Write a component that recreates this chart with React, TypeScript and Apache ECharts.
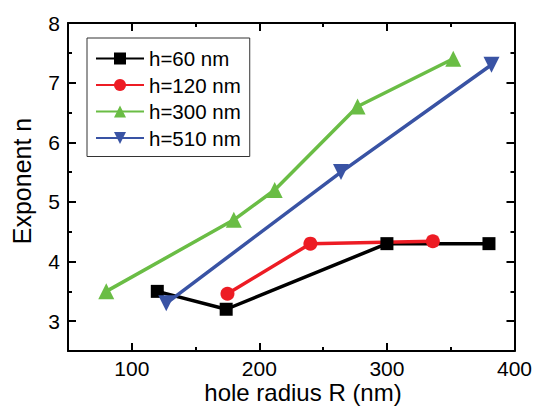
import React, { useEffect, useRef } from "react";
import * as echarts from "echarts";

const R60 = [120, 174, 300, 380];
const n60 = [3.5, 3.2, 4.3, 4.3];
const R120 = [175, 240, 336];
const n120 = [3.46, 4.3, 4.34];
const R300 = [80, 180, 212, 277, 352];
const n300 = [3.5, 4.7, 5.2, 6.6, 7.4];
const R510 = [127, 264, 382];
const n510 = [3.3, 5.5, 7.3];

const seriesNames = ["h=60 nm", "h=120 nm", "h=300 nm", "h=510 nm"];
const xMajor = [100, 200, 300, 400];
const xMinor = [150, 250, 350];
const yMajor = [3, 4, 5, 6, 7, 8];
const yMinor = [3.5, 4.5, 5.5, 6.5, 7.5];

const pairs = (xs: number[], ys: number[]) => xs.map((x, i) => [x, ys[i]]);

export default function App() {
  const ref = useRef<HTMLDivElement>(null);
  useEffect(() => {
    document.body.style.margin = "0";
    if (!ref.current) return;
    const chart = echarts.init(ref.current, undefined, { renderer: "svg" });
    const font = "Liberation Sans, Arial, sans-serif";
    const lineCol = "#000";
    const baseX = (position: string, ticks: number[], len: number, showLine: boolean, showLabel: boolean) => ({
      type: "value",
      gridIndex: 0,
      position,
      min: 50,
      max: 400,
      axisLine: { show: showLine, onZero: false, lineStyle: { color: lineCol, width: 2 } },
      axisTick: { show: true, inside: true, length: len, customValues: ticks, lineStyle: { color: lineCol, width: 2 } },
      axisLabel: showLabel
        ? { show: true, customValues: ticks, fontSize: 21, color: "#000", fontFamily: font, margin: 7 }
        : { show: false },
      splitLine: { show: false },
    });
    const baseY = (position: string, ticks: number[], len: number, showLine: boolean, showLabel: boolean) => ({
      type: "value",
      gridIndex: 0,
      position,
      min: 2.5,
      max: 8,
      axisLine: { show: showLine, onZero: false, lineStyle: { color: lineCol, width: 2 } },
      axisTick: { show: true, inside: true, length: len, customValues: ticks, lineStyle: { color: lineCol, width: 2 } },
      axisLabel: showLabel
        ? { show: true, customValues: ticks, fontSize: 21, color: "#000", fontFamily: font, margin: 8 }
        : { show: false },
      splitLine: { show: false },
    });
    const mk = (name: string, data: number[][], color: string, symbol: string, size: number, rotate = 0) => ({
      name,
      type: "line",
      xAxisIndex: 0,
      yAxisIndex: 0,
      data,
      symbol,
      symbolSize: size,
      symbolRotate: rotate,
      showAllSymbol: true,
      lineStyle: { color, width: 3.5 },
      itemStyle: { color },
      z: 3,
    });
    chart.setOption({
      animation: false,
      backgroundColor: "#fff",
      grid: { left: 68, right: 18, top: 23, bottom: 56, containLabel: false },
      xAxis: [
        baseX("bottom", xMajor, 8, true, true),
        baseX("bottom", xMinor, 4, false, false),
        baseX("top", xMajor, 8, true, false),
        baseX("top", xMinor, 4, false, false),
      ],
      yAxis: [
        baseY("left", yMajor, 8, true, true),
        baseY("left", yMinor, 4, false, false),
        baseY("right", yMajor, 8, true, false),
        baseY("right", yMinor, 4, false, false),
      ],
      legend: {
        orient: "vertical",
        left: 87,
        top: 38,
        data: seriesNames,
        itemWidth: 48,
        itemHeight: 15,
        itemGap: 5.5,
        padding: [10, 9, 8, 8],
        borderColor: "#333",
        borderWidth: 1,
        textStyle: { fontSize: 20.5, color: "#000", fontFamily: font, lineHeight: 20, padding: [0, 0, 0, 0] },
      },
      graphic: [
        {
          type: "text",
          x: 303,
          y: 392,
          style: { text: "hole radius R (nm)", align: "center", verticalAlign: "middle", font: `24px ${font}`, fill: "#000" },
        },
        {
          type: "text",
          x: 22,
          y: 181,
          rotation: Math.PI / 2,
          style: { text: "Exponent n", align: "center", verticalAlign: "middle", font: `25px ${font}`, fill: "#000" },
        },
      ],
      series: [
        mk(seriesNames[0], pairs(R60, n60), "#000000", "rect", 13),
        mk(seriesNames[1], pairs(R120, n120), "#ed1c24", "circle", 14),
        mk(seriesNames[2], pairs(R300, n300), "#6abd45", "triangle", 16),
        mk(seriesNames[3], pairs(R510, n510), "#3953a4", "triangle", 16, 180),
      ],
    });
    return () => chart.dispose();
  }, []);
  return <div ref={ref} style={{ width: 535, height: 407 }} />;
}
